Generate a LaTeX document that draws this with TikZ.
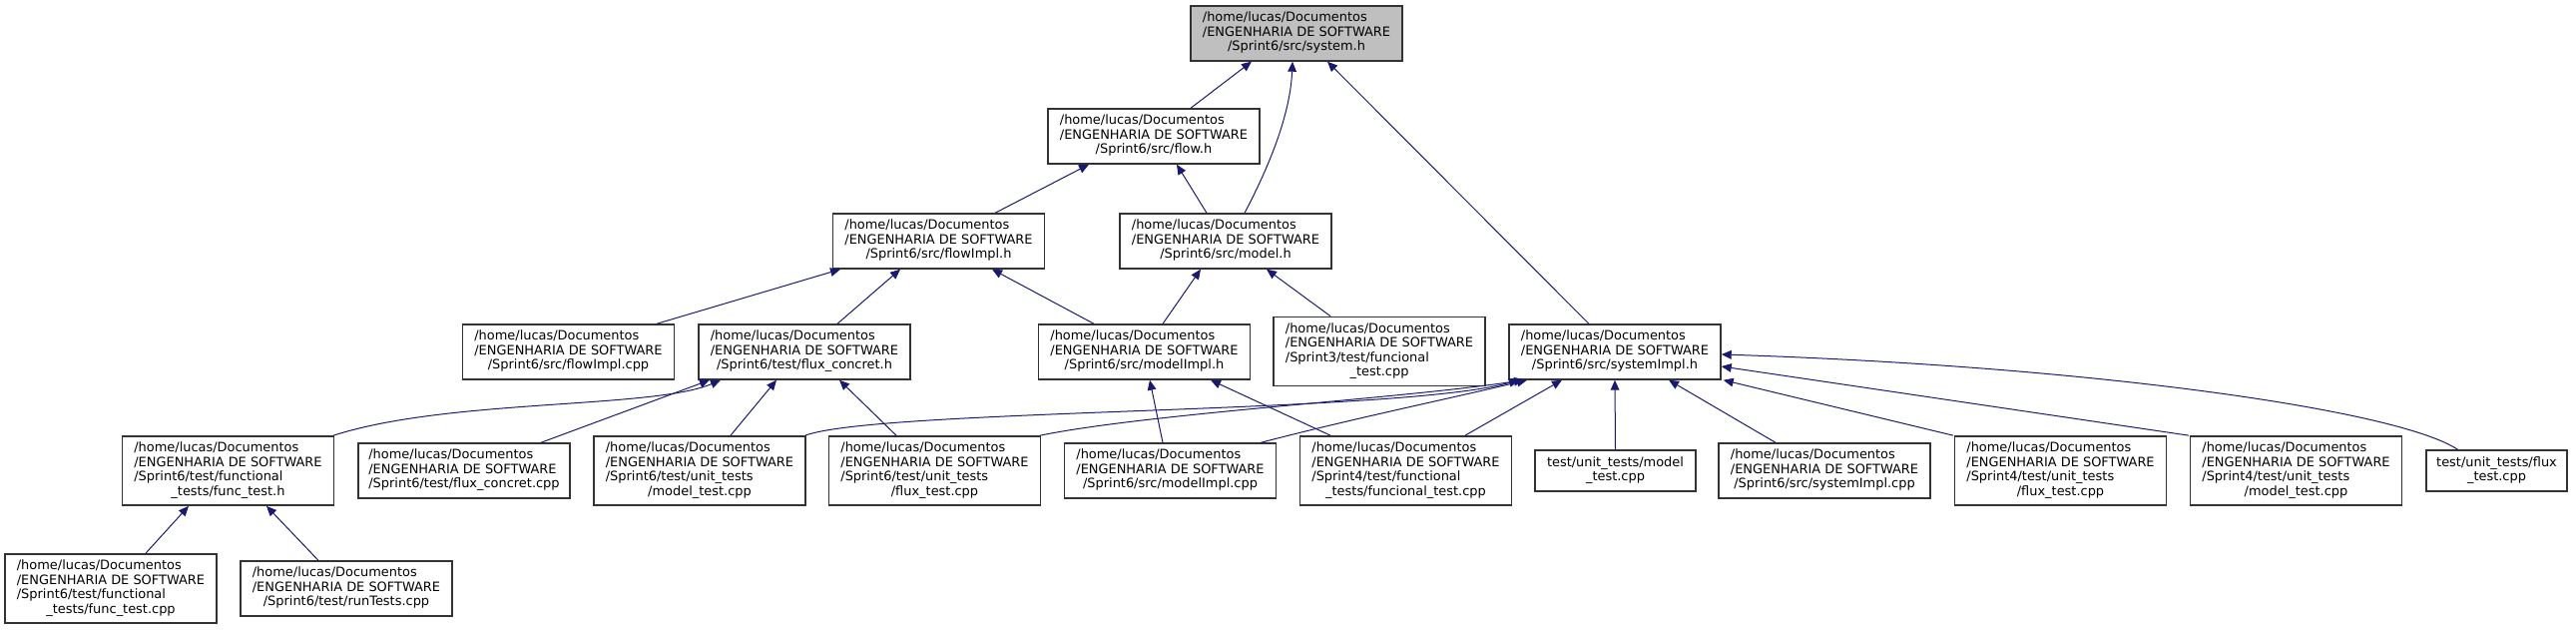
\documentclass[tikz,border=0pt]{standalone}
\usepackage{fontspec}
\setmainfont{DejaVu Sans}
\usetikzlibrary{arrows.meta,calc}
\definecolor{edgeblue}{HTML}{191970}
\definecolor{rootgray}{HTML}{BFBFBF}
\newcommand{\flbl}[2]{\begin{tabular}{@{}l@{}}#1\\\multicolumn{1}{@{}c@{}}{#2}\end{tabular}}
\newcommand{\hp}{/home/lucas/Documentos\\/ENGENHARIA DE SOFTWARE}
\tikzset{
  srcfile/.style={draw=black!80,line width=1.05pt,fill=white,minimum width=159pt,minimum height=41.25pt,inner sep=0pt,font=\fontsize{9.7}{10.9}\selectfont},
  tallfile/.style={srcfile,minimum height=52pt},
  rootfile/.style={srcfile,fill=rootgray},
  inc/.style={edgeblue,line width=.75pt,-{Triangle[length=7.5pt,width=6.5pt]}}
}

\begin{document}
\begin{tikzpicture}[x=.75pt,y=-.75pt]
\useasboundingbox (0,0) rectangle (2581,631);
\node[rootfile] (sys) at (1299,33.5) {\flbl{\hp}{/Sprint6/src/system.h}};
\node[srcfile] (flow) at (1156,136.5) {\flbl{\hp}{/Sprint6/src/flow.h}};
\node[srcfile] (flowimplh) at (940.5,241.5) {\flbl{\hp}{/Sprint6/src/flowImpl.h}};
\node[srcfile] (model) at (1228,241.5) {\flbl{\hp}{/Sprint6/src/model.h}};
\node[srcfile] (flowimplcpp) at (569.5,352.5) {\flbl{\hp}{/Sprint6/src/flowImpl.cpp}};
\node[srcfile] (fluxch) at (806,352.5) {\flbl{\hp}{/Sprint6/test/flux\_concret.h}};
\node[srcfile] (modelimplh) at (1146.5,352.5) {\flbl{\hp}{/Sprint6/src/modelImpl.h}};
\node[tallfile] (sthreefunc) at (1382,352) {\flbl{\hp\\/Sprint3/test/funcional}{\_test.cpp}};
\node[srcfile] (sysimplh) at (1618,352.5) {\flbl{\hp}{/Sprint6/src/systemImpl.h}};
\node[tallfile] (functesth) at (228.5,471.5) {\flbl{\hp\\/Sprint6/test/functional}{\_tests/func\_test.h}};
\node[srcfile] (fluxccpp) at (465,471.5) {\flbl{\hp}{/Sprint6/test/flux\_concret.cpp}};
\node[tallfile] (ssixmodel) at (701,471.5) {\flbl{\hp\\/Sprint6/test/unit\_tests}{/model\_test.cpp}};
\node[tallfile] (ssixflux) at (936.5,471.5) {\flbl{\hp\\/Sprint6/test/unit\_tests}{/flux\_test.cpp}};
\node[srcfile] (modelimplcpp) at (1172.5,471.5) {\flbl{\hp}{/Sprint6/src/modelImpl.cpp}};
\node[tallfile] (sfourfunc) at (1408.5,471.5) {\flbl{\hp\\/Sprint4/test/functional}{\_tests/funcional\_test.cpp}};
\node[srcfile,minimum width=120.75pt,minimum height=30.75pt] (tmodel) at (1618.5,471.5) {\flbl{test/unit\_tests/model}{\_test.cpp}};
\node[srcfile] (sysimplcpp) at (1828,471.5) {\flbl{\hp}{/Sprint6/src/systemImpl.cpp}};
\node[tallfile] (sfourflux) at (2064.5,471.5) {\flbl{\hp\\/Sprint4/test/unit\_tests}{/flux\_test.cpp}};
\node[tallfile] (sfourmodel) at (2300.5,471.5) {\flbl{\hp\\/Sprint4/test/unit\_tests}{/model\_test.cpp}};
\node[srcfile,minimum width=105.75pt,minimum height=30.75pt] (tflux) at (2501.5,471.5) {\flbl{test/unit\_tests/flux}{\_test.cpp}};
\node[tallfile] (functestcpp) at (111,589.5) {\flbl{\hp\\/Sprint6/test/functional}{\_tests/func\_test.cpp}};
\node[srcfile] (runtests) at (347,589.5) {\flbl{\hp}{/Sprint6/test/runTests.cpp}};

\draw[inc] ($(flow.north)+(37,0)$) -- ($(sys.south)+(-45,0)$);
\draw[inc] ($(model.north)+(19,0)$) .. controls +(28,-53) and +(-2,49) .. ($(sys.south)+(-4,0)$);
\draw[inc] ($(sysimplh.north)+(-26,0)$) -- ($(sys.south)+(31,0)$);
\draw[inc] ($(flowimplh.north)+(56.5,0)$) -- ($(flow.south)+(-65,0)$);
\draw[inc] ($(model.north)+(-19,0)$) -- ($(flow.south)+(23,0)$);
\draw[inc] ($(flowimplcpp.north)+(88.5,0)$) -- ($(flowimplh.south)+(-98.5,0)$);
\draw[inc] ($(fluxch.north)+(33,0)$) -- ($(flowimplh.south)+(-38.5,0)$);
\draw[inc] ($(modelimplh.north)+(-50.5,0)$) -- ($(flowimplh.south)+(53.5,0)$);
\draw[inc] ($(modelimplh.north)+(18.5,0)$) -- ($(model.south)+(-25,0)$);
\draw[inc] ($(sthreefunc.north)+(-49,0)$) -- ($(model.south)+(41,0)$);
\draw[inc] ($(functesth.north east)+(-1,0)$) .. controls +(115,-37) and +(-68,29) .. ($(fluxch.south)+(-84,0)$);
\draw[inc] ($(fluxccpp.north)+(77,0)$) -- ($(fluxch.south)+(-95,0)$);
\draw[inc] ($(ssixmodel.north)+(31,0)$) -- ($(fluxch.south)+(-28,0)$);
\draw[inc] ($(ssixflux.north)+(-38.5,0)$) -- ($(fluxch.south)+(35,0)$);
\draw[inc] ($(modelimplcpp.north)+(-7.5,0)$) -- ($(modelimplh.south)+(5.5,0)$);
\draw[inc] ($(sfourfunc.north)+(-75.5,0)$) -- ($(modelimplh.south)+(66.5,0)$);
\draw[inc] ($(ssixmodel.north east)+(-1,0)$) .. controls +(75,-27) and +(-122,34) .. ($(sysimplh.south)+(-96,0)$);
\draw[inc] ($(ssixflux.north east)+(-1,0)$) .. controls +(108,-22) and +(-127,19) .. ($(sysimplh.south)+(-91,0)$);
\draw[inc] ($(modelimplcpp.north east)+(-16,0)$) .. controls +(88,-23) and +(-80,19) .. ($(sysimplh.south)+(-88,0)$);
\draw[inc] ($(sfourfunc.north)+(59.5,0)$) -- ($(sysimplh.south)+(-53,0)$);
\draw[inc] (tmodel.north) -- (sysimplh.south);
\draw[inc] ($(sysimplcpp.north)+(-49,0)$) -- ($(sysimplh.south)+(54,0)$);
\draw[inc] ($(sfourflux.north west)+(-1,0)$) -- ($(sysimplh.south east)+(2,0)$);
\draw[inc] ($(sfourmodel.north west)+(-1,0)$) -- ($(sysimplh.east)+(0,14.5)$);
\draw[inc] ($(tflux.north)+(-39,0)$) .. controls +(-60,-40) and +(370,12) .. ($(sysimplh.east)+(0,2.5)$);
\draw[inc] ($(functestcpp.north)+(35,0)$) -- ($(functesth.south)+(-39.5,0)$);
\draw[inc] ($(runtests.north)+(-28,0)$) -- ($(functesth.south)+(38.5,0)$);
\end{tikzpicture}
\end{document}
